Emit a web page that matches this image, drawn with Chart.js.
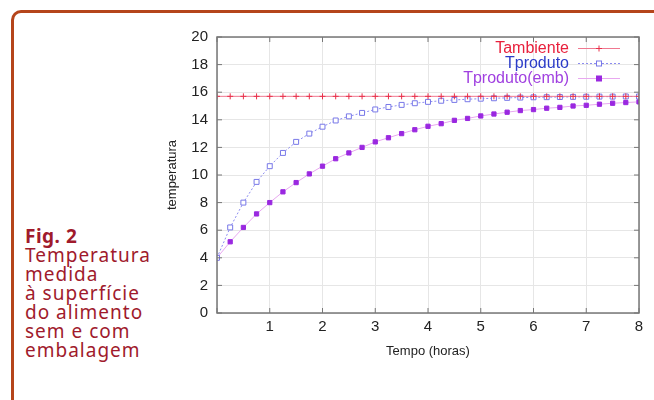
<!DOCTYPE html>
<html>
<head>
<meta charset="utf-8">
<script src="https://cdn.jsdelivr.net/npm/chart.js@4"></script>
<style>
    html, body { margin: 0; padding: 0; background: #fff; }
    #page { position: relative; width: 654px; height: 400px; overflow: hidden; }
    #frame {
        position: absolute; left: 11px; top: 10px; width: 660px; height: 410px;
        border-top: 3px solid #b5451b; border-left: 3px solid #b5451b;
        border-top-left-radius: 10px;
    }
    #caption {
        position: absolute; left: 25px; top: 227px; width: 140px;
        font-family: "Noto Sans", sans-serif; font-size: 19px; line-height: 19px;
        letter-spacing: 1px; color: #a01a2c;
    }
    #caption b { font-weight: 700; letter-spacing: 0.5px; }
    #box { position: absolute; left: 160px; top: 19px; width: 494px; height: 356px; }
</style>
</head>
<body>
<div id="page">
    <div id="frame"></div>
    <div id="caption"><b>Fig. 2</b><br>Temperatura<br>medida<br>à superfície<br>do alimento<br>sem e com<br>embalagem</div>
    <div id="box"><canvas id="chart"></canvas></div>
</div>
<script>
// tempo em horas, de 15 em 15 minutos
const hours = [0, 0.25, 0.5, 0.75, 1, 1.25, 1.5, 1.75, 2, 2.25, 2.5, 2.75, 3, 3.25, 3.5, 3.75,
    4, 4.25, 4.5, 4.75, 5, 5.25, 5.5, 5.75, 6, 6.25, 6.5, 6.75, 7, 7.25, 7.5, 7.75, 8];
const tAmbiente = [15.7, 15.7, 15.7, 15.7, 15.7, 15.7, 15.7, 15.7, 15.7, 15.7, 15.7, 15.7, 15.7, 15.7, 15.7, 15.7,
    15.7, 15.7, 15.7, 15.7, 15.7, 15.7, 15.7, 15.7, 15.7, 15.7, 15.7, 15.7, 15.7, 15.7, 15.7, 15.7, 15.7];
const tProduto = [4.0, 6.2, 8.0, 9.5, 10.64, 11.6, 12.4, 13.0, 13.5, 13.95, 14.25, 14.5, 14.75, 14.93, 15.08, 15.2,
    15.3, 15.38, 15.44, 15.49, 15.53, 15.56, 15.59, 15.61, 15.63, 15.64, 15.65, 15.66, 15.67, 15.68, 15.68, 15.69, 15.69];
const tProdutoEmb = [4.0, 5.16, 6.2, 7.18, 8.0, 8.78, 9.45, 10.08, 10.64, 11.18, 11.6, 12.0, 12.4, 12.7, 13.0, 13.28,
    13.53, 13.72, 13.96, 14.1, 14.28, 14.42, 14.55, 14.67, 14.74, 14.84, 14.9, 15.0, 15.05, 15.13, 15.2, 15.25, 15.3];
const seriesLabels = ['Tambiente', 'Tproduto', 'Tproduto(emb)'];
const legendColors = ['#e8203c', '#2c3cc8', '#a040e0'];
const xTicks = [0, 1, 2, 3, 4, 5, 6, 7, 8];
const yTicks = [0, 2, 4, 6, 8, 10, 12, 14, 16, 18, 20];

const toPoints = (values) => values.map((v, i) => ({ x: hours[i], y: v }));

// legenda à direita, estilo gnuplot (texto alinhado à direita + amostra)
const gnuLegend = {
    id: 'gnuLegend',
    afterDatasetsDraw: (chart) => {
        const ctx = chart.ctx;
        const area = chart.chartArea;
        ctx.save();
        ctx.font = '16px "Liberation Sans", Arial, sans-serif';
        ctx.textAlign = 'right';
        ctx.textBaseline = 'middle';
        chart.data.datasets.forEach((ds, i) => {
            const y = area.top + 11.5 + i * 15;
            const xText = area.right - 70;
            ctx.fillStyle = legendColors[i];
            ctx.fillText(ds.label, xText, y);
            const x0 = area.right - 61, x1 = area.right - 19, xm = (x0 + x1) / 2;
            ctx.strokeStyle = ds.borderColor;
            ctx.lineWidth = 1;
            ctx.setLineDash(ds.borderDash || []);
            ctx.beginPath(); ctx.moveTo(x0, y); ctx.lineTo(x1, y); ctx.stroke();
            ctx.setLineDash([]);
            ctx.strokeStyle = ds.pointBorderColor;
            ctx.fillStyle = ds.pointBackgroundColor;
            if (ds.pointStyle === 'cross') {
                ctx.beginPath(); ctx.moveTo(xm - 3, y); ctx.lineTo(xm + 3, y);
                ctx.moveTo(xm, y - 3); ctx.lineTo(xm, y + 3); ctx.stroke();
            } else {
                ctx.fillRect(xm - 2.5, y - 2.5, 5, 5);
                ctx.strokeRect(xm - 2.5, y - 2.5, 5, 5);
            }
        });
        ctx.restore();
    }
};

// moldura e marcas de escala para dentro, nos quatro lados
const gnuFrame = {
    id: 'gnuFrame',
    afterDraw: (chart) => {
        const ctx = chart.ctx;
        const a = chart.chartArea;
        const xs = chart.scales.x, ys = chart.scales.y;
        ctx.save();
        ctx.strokeStyle = '#777';
        ctx.lineWidth = 1.5;
        ctx.strokeRect(a.left, a.top, a.right - a.left, a.bottom - a.top);
        ctx.lineWidth = 1;
        ctx.beginPath();
        xTicks.forEach((t) => {
            const px = xs.getPixelForValue(t);
            ctx.moveTo(px, a.bottom); ctx.lineTo(px, a.bottom - 5);
            ctx.moveTo(px, a.top); ctx.lineTo(px, a.top + 5);
        });
        yTicks.forEach((t) => {
            const py = ys.getPixelForValue(t);
            ctx.moveTo(a.left, py); ctx.lineTo(a.left + 5, py);
            ctx.moveTo(a.right, py); ctx.lineTo(a.right - 5, py);
        });
        ctx.stroke();
        ctx.restore();
    }
};

const tickFont = { family: '"Liberation Sans", Arial, sans-serif', size: 15 };
const titleFont = { family: '"Liberation Sans", Arial, sans-serif', size: 13 };

new Chart(document.getElementById('chart'), {
    type: 'line',
    data: {
        datasets: [
            {
                label: seriesLabels[0],
                data: toPoints(tAmbiente),
                borderColor: '#f07890',
                borderWidth: 1,
                pointStyle: 'cross',
                pointRadius: 3,
                pointBorderColor: '#e8304a',
                pointBackgroundColor: '#e8304a',
                pointBorderWidth: 1
            },
            {
                label: seriesLabels[1],
                data: toPoints(tProduto),
                borderColor: '#8c8cf0',
                borderWidth: 1,
                borderDash: [2, 2],
                pointStyle: 'rect',
                pointRadius: 3.5,
                pointBorderColor: '#7878e8',
                pointBackgroundColor: '#ffffff',
                pointBorderWidth: 1
            },
            {
                label: seriesLabels[2],
                data: toPoints(tProdutoEmb),
                borderColor: '#e8a8f0',
                borderWidth: 1,
                pointStyle: 'rect',
                pointRadius: 3,
                pointBorderColor: '#9a28e0',
                pointBackgroundColor: '#9a28e0',
                pointBorderWidth: 1
            }
        ]
    },
    options: {
        responsive: true,
        maintainAspectRatio: false,
        animation: false,
        layout: { padding: { left: 0, right: 15, top: 4, bottom: 12 } },
        plugins: {
            legend: { display: false },
            tooltip: { enabled: false }
        },
        scales: {
            x: {
                type: 'linear',
                min: 0,
                max: 8,
                afterFit: (scale) => { scale.height = 50; },
                afterBuildTicks: (scale) => { scale.ticks = xTicks.map((v) => ({ value: v })); },
                ticks: {
                    color: '#222',
                    font: tickFont,
                    padding: 5,
                    callback: (v) => (v === 0 ? '' : v)
                },
                grid: { color: '#e6e6e6', drawTicks: false, lineWidth: 1 },
                border: { display: false },
                title: { display: true, text: 'Tempo (horas)', color: '#222', font: titleFont, padding: { top: 6 } }
            },
            y: {
                min: 0,
                max: 20,
                afterFit: (scale) => { scale.width = 57; },
                afterBuildTicks: (scale) => { scale.ticks = yTicks.map((v) => ({ value: v })); },
                ticks: { color: '#222', font: tickFont, padding: 9 },
                grid: { color: '#e6e6e6', drawTicks: false, lineWidth: 1 },
                border: { display: false },
                title: { display: true, text: 'temperatura', color: '#222', font: titleFont, padding: { top: 5, bottom: 0 } }
            }
        }
    },
    plugins: [gnuLegend, gnuFrame]
});
</script>
</body>
</html>
